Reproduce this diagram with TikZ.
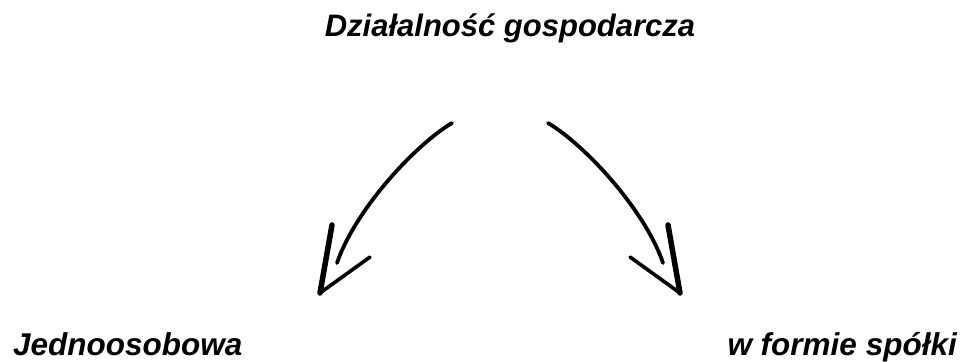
\documentclass[tikz,border=0pt]{standalone}
\usepackage{fontspec}
\setmainfont{Liberation Sans}
\begin{document}
\begin{tikzpicture}[x=1pt,y=-1pt,
  lbl/.style={inner sep=0pt,font=\fontsize{31.5}{36}\selectfont\bfseries\itshape},
  shaft/.style={line width=3.8pt,line cap=round},
  barbthick/.style={line width=5.5pt,line cap=round,line join=round},
  barbthin/.style={line width=3.6pt,line cap=round}]
\useasboundingbox (0,0) rectangle (965,361);
\node[lbl,anchor=base,font=\fontsize{31}{36}\selectfont\bfseries\itshape] (top) at (510,37) {Działalność gospodarcza};
\node[lbl,anchor=base west] (left) at (13,355) {Jednoosobowa};
\node[lbl,anchor=base east] (right) at (957,355) {w formie spółki};
% left arrow
\coordinate (ls) at (452,123);
\coordinate (le) at (337,263);
\coordinate (lt) at (320,293);
\coordinate (lb1) at (332,225);
\coordinate (lb2) at (370,257);
\draw[shaft] (ls) .. controls (415,145) and (355,210) .. (le);
\draw[barbthick] (lb1) -- (lt);
\draw[barbthin] (lb2) -- (lt);
% right arrow
\coordinate (rs) at (548,123);
\coordinate (re) at (663,263);
\coordinate (rt) at (680,293);
\coordinate (rb1) at (668,225);
\coordinate (rb2) at (630,257);
\draw[shaft] (rs) .. controls (585,145) and (645,210) .. (re);
\draw[barbthick] (rb1) -- (rt);
\draw[barbthin] (rb2) -- (rt);
\end{tikzpicture}
\end{document}
